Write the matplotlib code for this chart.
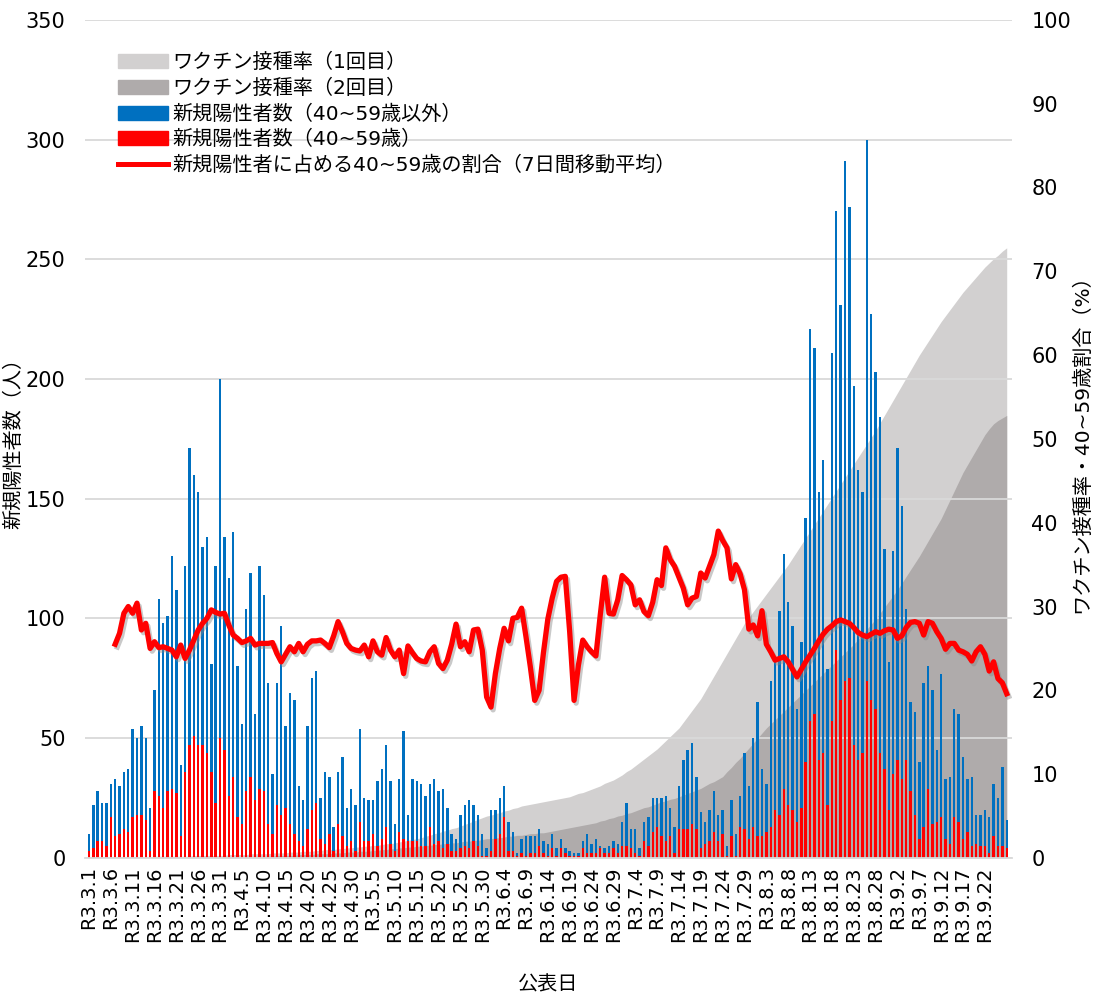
import numpy as np
import pandas as pd
import matplotlib
matplotlib.use('Agg')
import matplotlib.pyplot as plt
import matplotlib.patheffects as pe
from matplotlib.patches import Patch
from matplotlib.lines import Line2D

plt.rcParams['font.family'] = ['DejaVu Sans', 'Noto Sans CJK JP']

# 公表日 R3.3.1 - R3.9.27
dates = pd.date_range('2021-03-01', '2021-09-27')
date_labels = [f'R3.{d.month}.{d.day}' for d in dates]

# 新規陽性者数（合計）
total = [10, 22, 28, 23, 23, 31, 33, 30, 36, 37,
         54, 50, 55, 50, 21, 70, 108, 98, 101, 126,
         112, 39, 122, 171, 160, 153, 130, 134, 81, 122,
         200, 134, 117, 136, 80, 56, 104, 119, 60, 122,
         110, 73, 35, 73, 97, 55, 69, 66, 30, 24,
         55, 75, 78, 25, 36, 34, 13, 36, 42, 21,
         29, 22, 54, 25, 24, 24, 32, 37, 47, 32,
         14, 33, 53, 18, 33, 32, 31, 26, 31, 33,
         28, 29, 21, 10, 8, 18, 22, 24, 22, 18,
         10, 4, 20, 20, 25, 30, 15, 11, 2, 8,
         9, 9, 9, 12, 7, 6, 10, 4, 8, 4,
         3, 2, 2, 7, 10, 6, 8, 5, 4, 5,
         7, 6, 15, 23, 12, 12, 4, 15, 17, 25,
         25, 25, 26, 21, 13, 30, 41, 45, 48, 34,
         19, 15, 20, 28, 18, 20, 5, 24, 10, 26,
         44, 30, 50, 65, 37, 31, 74, 82, 103, 127,
         107, 97, 62, 90, 142, 221, 213, 153, 166, 79,
         211, 270, 231, 291, 272, 197, 162, 153, 300, 227,
         203, 184, 129, 82, 128, 171, 147, 104, 65, 61,
         40, 73, 80, 70, 45, 77, 33, 34, 62, 60,
         42, 33, 34, 18, 18, 20, 17, 31, 25, 38, 16]

# 新規陽性者数（40~59歳）
age4059 = [3, 4, 7, 7, 5, 17, 9, 10, 12, 11,
           17, 18, 18, 16, 3, 28, 26, 21, 28, 29,
           27, 9, 36, 47, 51, 47, 47, 44, 36, 23,
           50, 45, 26, 34, 17, 14, 28, 34, 24, 29,
           28, 14, 10, 22, 18, 21, 14, 10, 7, 5,
           12, 20, 23, 8, 6, 10, 3, 14, 9, 5,
           7, 3, 15, 7, 7, 10, 5, 8, 13, 6,
           3, 11, 8, 7, 7, 7, 5, 5, 13, 6,
           7, 4, 6, 3, 3, 4, 5, 4, 7, 5,
           1, 1, 3, 8, 10, 17, 3, 3, 1, 2,
           1, 2, 2, 5, 2, 1, 4, 1, 4, 2,
           1, 1, 1, 4, 2, 2, 2, 4, 2, 2,
           4, 2, 5, 5, 4, 2, 1, 7, 5, 11,
           13, 9, 7, 9, 2, 12, 12, 12, 14, 12,
           4, 6, 7, 11, 7, 10, 1, 9, 1, 13,
           12, 8, 13, 9, 9, 11, 13, 20, 18, 29,
           22, 20, 15, 21, 40, 57, 60, 41, 44, 22,
           57, 87, 66, 74, 75, 47, 41, 44, 74, 66,
           62, 44, 37, 20, 35, 41, 33, 41, 28, 18,
           8, 13, 29, 14, 15, 17, 8, 6, 17, 15,
           8, 11, 5, 6, 5, 5, 2, 9, 5, 5, 4]

# 40~59歳の割合（7日間移動平均, %）
ratio = [np.nan] * 6 + [
    25.5, 26.8, 29.2, 30.0, 29.2, 30.4, 27.2, 28.0, 25.0, 25.8,
    25.1, 25.2, 25.0, 24.8, 24.0, 25.4, 23.8, 24.8, 26.0, 27.2,
    28.0, 28.6, 29.6, 29.3, 29.1, 29.2, 27.8, 26.6, 26.2, 25.7,
    25.9, 26.2, 25.4, 25.6, 25.6, 25.6, 25.7, 24.4, 23.4, 24.3,
    25.2, 24.6, 25.6, 24.6, 25.5, 25.9, 25.9, 26.0, 25.6, 25.1,
    26.5, 28.2, 27.0, 25.6, 25.0, 24.8, 24.7, 25.4, 24.0, 25.9,
    24.6, 24.2, 26.3, 24.8, 24.0, 24.8, 22.0, 25.3, 24.5, 23.8,
    23.5, 23.4, 24.6, 25.2, 23.2, 22.6, 23.6, 25.5, 27.9, 25.2,
    25.8, 24.6, 27.2, 27.3, 24.8, 19.2, 18.0, 22.0, 25.0, 27.4,
    25.9, 28.6, 28.7, 29.8, 26.4, 22.8, 18.8, 20.0, 24.5, 28.5,
    31.0, 33.0, 33.5, 33.6, 27.0, 18.8, 23.0, 26.0, 25.2, 24.6,
    24.1, 29.0, 33.5, 29.2, 29.1, 30.8, 33.7, 33.2, 32.6, 30.2,
    30.8, 29.4, 28.9, 30.5, 33.2, 32.5, 37.0, 35.6, 34.8, 33.5,
    32.2, 30.2, 31.0, 31.2, 34.0, 33.4, 34.8, 36.2, 39.0, 37.9,
    37.0, 33.3, 35.0, 33.9, 32.0, 27.3, 27.8, 26.5, 29.5, 25.5,
    24.6, 23.6, 23.8, 24.0, 23.4, 22.5, 21.6, 22.5, 23.4, 24.2,
    25.0, 25.9, 26.7, 27.3, 27.7, 28.2, 28.4, 28.2, 28.0, 27.5,
    26.9, 26.6, 26.4, 26.7, 27.0, 26.8, 27.1, 27.3, 27.2, 26.2,
    26.5, 27.5, 28.1, 28.2, 28.0, 26.6, 28.2, 28.0, 27.0, 26.2,
    24.9, 25.6, 25.6, 24.8, 24.6, 24.3, 23.5, 24.6, 25.2, 24.3,
    22.3, 23.4, 21.4, 20.9, 19.6]

# ワクチン接種率（1回目, %）
vac1 = [0.1, 0.1, 0.1, 0.1, 0.1, 0.1, 0.1, 0.1, 0.1, 0.1,
        0.1, 0.1, 0.1, 0.1, 0.1, 0.2, 0.2, 0.2, 0.2, 0.2,
        0.2, 0.2, 0.2, 0.2, 0.3, 0.3, 0.3, 0.3, 0.3, 0.3,
        0.3, 0.3, 0.4, 0.4, 0.4, 0.4, 0.4, 0.5, 0.5, 0.5,
        0.5, 0.5, 0.6, 0.6, 0.6, 0.6, 0.7, 0.7, 0.7, 0.8,
        0.8, 0.8, 0.9, 0.9, 1.0, 1.0, 1.0, 1.1, 1.1, 1.2,
        1.2, 1.3, 1.3, 1.4, 1.4, 1.5, 1.5, 1.6, 1.7, 1.7,
        1.8, 1.9, 2.0, 2.1, 2.2, 2.3, 2.4, 2.6, 2.7, 2.9,
        3.0, 3.2, 3.3, 3.5, 3.6, 3.8, 4.0, 4.2, 4.4, 4.6,
        4.8, 5.0, 5.1, 5.3, 5.4, 5.6, 5.7, 5.9, 6.0, 6.2,
        6.3, 6.4, 6.5, 6.6, 6.7, 6.8, 6.9, 7.0, 7.1, 7.2,
        7.3, 7.5, 7.7, 7.8, 8.0, 8.2, 8.4, 8.6, 8.9, 9.1,
        9.3, 9.6, 9.9, 10.3, 10.6, 11.0, 11.4, 11.8, 12.2, 12.6,
        13.0, 13.5, 14.0, 14.5, 15.0, 15.5, 16.2, 16.9, 17.6, 18.3,
        19.0, 19.9, 20.8, 21.7, 22.6, 23.5, 24.4, 25.3, 26.2, 27.1,
        28.0, 28.7, 29.4, 30.1, 30.8, 31.5, 32.2, 32.9, 33.6, 34.3,
        35.0, 35.8, 36.6, 37.4, 38.2, 39.0, 39.8, 40.6, 41.4, 42.2,
        43.0, 43.8, 44.6, 45.4, 46.2, 47.0, 47.8, 48.6, 49.4, 50.2,
        51.0, 51.9, 52.8, 53.7, 54.6, 55.5, 56.4, 57.3, 58.2, 59.1,
        60.0, 60.8, 61.6, 62.4, 63.2, 64.0, 64.7, 65.4, 66.1, 66.8,
        67.5, 68.1, 68.7, 69.3, 69.9, 70.5, 71.0, 71.5, 71.9, 72.4, 72.8]

# ワクチン接種率（2回目, %）
vac2 = [0.0, 0.0, 0.0, 0.0, 0.0, 0.0, 0.0, 0.0, 0.0, 0.0,
        0.0, 0.0, 0.0, 0.0, 0.0, 0.1, 0.1, 0.1, 0.1, 0.1,
        0.1, 0.1, 0.1, 0.1, 0.1, 0.1, 0.1, 0.1, 0.1, 0.1,
        0.1, 0.1, 0.1, 0.1, 0.1, 0.2, 0.2, 0.2, 0.2, 0.2,
        0.2, 0.2, 0.2, 0.3, 0.3, 0.3, 0.3, 0.3, 0.4, 0.4,
        0.4, 0.4, 0.5, 0.5, 0.5, 0.5, 0.6, 0.6, 0.6, 0.7,
        0.7, 0.7, 0.8, 0.8, 0.8, 0.9, 0.9, 1.0, 1.0, 1.1,
        1.1, 1.2, 1.2, 1.3, 1.3, 1.4, 1.4, 1.5, 1.5, 1.6,
        1.6, 1.7, 1.7, 1.8, 1.8, 1.9, 2.0, 2.0, 2.1, 2.1,
        2.2, 2.3, 2.3, 2.4, 2.4, 2.5, 2.6, 2.6, 2.7, 2.7,
        2.8, 2.9, 2.9, 3.0, 3.0, 3.1, 3.2, 3.3, 3.4, 3.5,
        3.6, 3.7, 3.8, 3.9, 4.0, 4.1, 4.2, 4.4, 4.5, 4.7,
        4.8, 5.0, 5.1, 5.3, 5.4, 5.6, 5.8, 6.0, 6.1, 6.3,
        6.5, 6.7, 6.8, 7.0, 7.1, 7.3, 7.5, 7.7, 7.9, 8.1,
        8.3, 8.6, 8.9, 9.1, 9.4, 9.7, 10.3, 10.8, 11.4, 11.9,
        12.5, 13.1, 13.7, 14.3, 14.9, 15.5, 16.0, 16.5, 17.0, 17.5,
        18.0, 18.5, 19.0, 19.5, 20.0, 20.5, 21.0, 21.5, 22.0, 22.5,
        23.0, 23.5, 24.0, 24.5, 25.0, 25.5, 26.1, 26.7, 27.3, 27.9,
        28.5, 29.2, 29.9, 30.6, 31.3, 32.0, 32.8, 33.6, 34.4, 35.2,
        36.0, 36.9, 37.8, 38.7, 39.6, 40.5, 41.6, 42.7, 43.8, 44.9,
        46.0, 46.9, 47.8, 48.7, 49.6, 50.5, 51.2, 51.8, 52.2, 52.5, 52.8]

x = np.arange(len(dates))
total = np.array(total)
age4059 = np.array(age4059)
other = total - age4059

c_vac1 = '#D2D0D0'
c_vac2 = '#AFABAB'
c_blue = '#0070C0'
c_red = '#FF0000'

fig = plt.figure(figsize=(10.94, 9.93), dpi=100)
ax = fig.add_axes([0.0777, 0.136, 0.8473, 0.844])
ax_area = ax.twinx()
ax_line = ax.twinx()
ax_area.set_zorder(0)
ax.set_zorder(1)
ax_line.set_zorder(2)
ax.patch.set_visible(False)

# 接種率（面）
ax_area.fill_between(x, vac1, 0, color=c_vac1, lw=0)
ax_area.fill_between(x, vac2, 0, color=c_vac2, lw=0)
ax_area.set_ylim(0, 100)
ax_area.set_yticks([])

# 新規陽性者数（積み上げ棒）
ax.bar(x, age4059, width=0.55, color=c_red, lw=0)
ax.bar(x, other, bottom=age4059, width=0.55, color=c_blue, lw=0)
ax.set_ylim(0, 350)
ax.set_yticks(range(0, 351, 50))
ax.set_xlim(-0.9, 211.2)
ax.yaxis.grid(True, color='#D9D9D9', lw=1.3)
ax.set_axisbelow(True)
ax.set_xticks(x[0:206:5])
ax.set_xticklabels(date_labels[0:206:5], rotation=90)
ax.tick_params(axis='x', length=0, labelsize=14, pad=6)
ax.tick_params(axis='y', length=0, labelsize=15, pad=14)
ax.set_ylabel('新規陽性者数（人）', fontsize=14.5, labelpad=2)
ax.set_xlabel('公表日', fontsize=14.5, labelpad=24)

# 割合（線）
ax_line.plot(x, ratio, color=c_red, lw=3.8, solid_joinstyle='round',
             path_effects=[pe.SimpleLineShadow(offset=(1.5, -2), shadow_color='#888888', alpha=0.45),
                           pe.Normal()])
ax_line.set_ylim(0, 100)
ax_line.set_yticks(range(0, 101, 10))
ax_line.tick_params(axis='y', length=0, labelsize=15, pad=14)
ax_line.set_ylabel('ワクチン接種率・40~59歳割合（%）', fontsize=14.5, labelpad=1)

for a in (ax, ax_area, ax_line):
    for s in a.spines.values():
        s.set_visible(False)
ax.spines['bottom'].set_visible(True)
ax.spines['bottom'].set_color('#D9D9D9')
ax.spines['bottom'].set_linewidth(1.3)

handles = [Patch(color=c_vac1), Patch(color=c_vac2), Patch(color=c_blue), Patch(color=c_red),
           Line2D([0], [0], color=c_red, lw=3.6)]
names = ['ワクチン接種率（1回目）', 'ワクチン接種率（2回目）', '新規陽性者数（40~59歳以外）',
         '新規陽性者数（40~59歳）', '新規陽性者に占める40~59歳の割合（7日間移動平均）']
ax_line.legend(handles, names, loc='upper left', bbox_to_anchor=(0.016, 0.982), frameon=False,
               fontsize=14.5, handlelength=2.5, handleheight=0.7, handletextpad=0.2,
               labelspacing=0.32, borderpad=0.4)

fig.savefig('out.png', dpi=100)
